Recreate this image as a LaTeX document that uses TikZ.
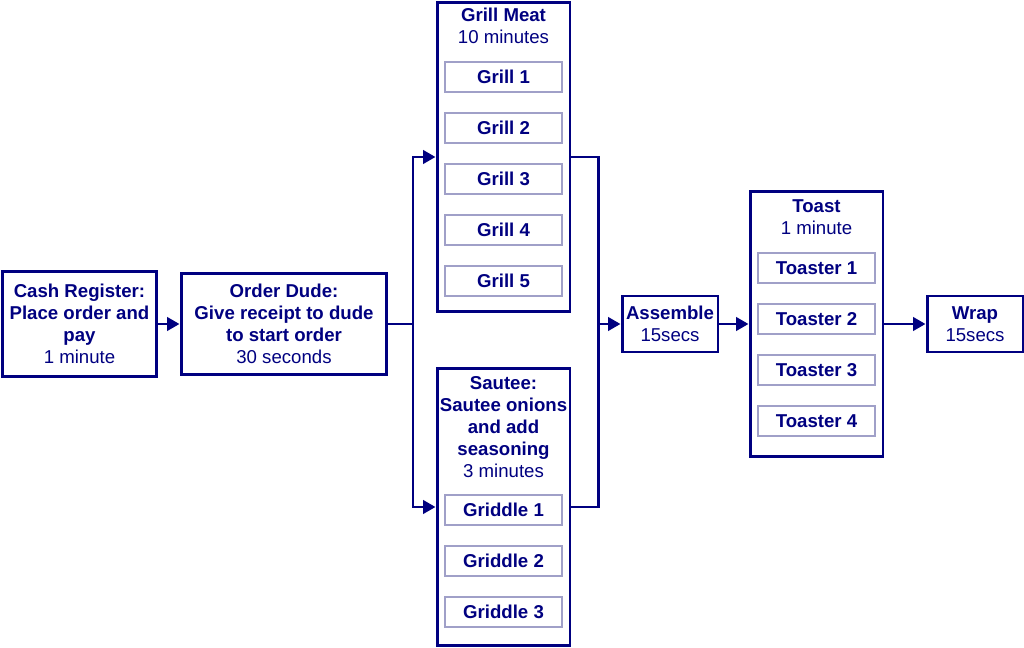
\documentclass[tikz,border=0pt]{standalone}
\usepackage{fontspec}
\setmainfont{Liberation Sans}
\usetikzlibrary{arrows.meta}
\definecolor{navy}{RGB}{0,0,128}
\definecolor{pale}{RGB}{160,160,200}
\newcommand{\tm}[1]{{\mdseries #1}}

\begin{document}
\begin{tikzpicture}[x=0.02cm,y=-0.02cm]
	\tikzstyle{stage}=[draw=navy,line width=1.7pt,text=navy,align=center,inner sep=0pt,
		font=\fontsize{10.6}{12.6}\selectfont\bfseries];
	\tikzstyle{title}=[text=navy,align=center,inner sep=0pt,anchor=north,
		font=\fontsize{10.6}{12.6}\selectfont\bfseries];
	\tikzstyle{unit}=[draw=pale,line width=0.6pt,text=navy,minimum width=2.34cm,minimum height=0.6cm,
		inner sep=0pt,font=\fontsize{10.6}{12.6}\selectfont\bfseries];
	\tikzstyle{flow}=[draw=navy,line width=1.7pt,>={Triangle[length=7pt,width=7.5pt]}];
%<--------------------------------------------------------------------------->%
	\useasboundingbox (0,0) rectangle (1024,648);
	%% Stages
	\node[stage,minimum width=3.1cm,minimum height=2.12cm] (cash) at (79.5,324)
		{Cash Register:\\Place order and\\pay\\\tm{1 minute}};
	\node[stage,minimum width=4.12cm,minimum height=2.04cm] (order) at (284,324)
		{Order Dude:\\Give receipt to dude\\to start order\\\tm{30 seconds}};
	\node[stage,minimum width=2.66cm,minimum height=6.2cm] (grill) at (503.5,157) {};
	\node[stage,minimum width=2.66cm,minimum height=5.56cm] (sautee) at (503.5,507) {};
	\node[stage,minimum width=1.92cm,minimum height=1.12cm] (assemble) at (670,324)
		{Assemble\\\tm{15secs}};
	\node[stage,minimum width=2.66cm,minimum height=5.3cm] (toast) at (816.5,324) {};
	\node[stage,minimum width=1.92cm,minimum height=1.12cm] (wrap) at (975,324)
		{Wrap\\\tm{15secs}};
	%% Titles
	\node[title] (grilltitle) at (503.5,8) {Grill Meat\\\tm{10 minutes}};
	\node[title] (sauteetitle) at (503.5,376) {Sautee:\\Sautee onions\\and add\\seasoning\\\tm{3 minutes}};
	\node[title] (toasttitle) at (816.5,199) {Toast\\\tm{1 minute}};
	%% Units
	\foreach \i/\y in {1/77,2/128,3/179,4/230,5/281}
		\node[unit] (grill\i) at (503.5,\y) {Grill \i};
	\foreach \i/\y in {1/510,2/561,3/612}
		\node[unit] (griddle\i) at (503.5,\y) {Griddle \i};
	\foreach \i/\y in {1/268,2/319,3/370,4/421}
		\node[unit] (toaster\i) at (816.5,\y) {Toaster \i};
	%% Connectors
	\coordinate (split) at (413,324);
	\coordinate (join)  at (598,324);
	\draw[flow,->] (cash) -- (order);
	\draw[flow] (order) -- (split);
	\draw[flow,->] (split) |- (grill);
	\draw[flow,->] (split) |- (sautee);
	\draw[flow] (grill.east) -| (join) |- (sautee.east);
	\draw[flow,->] (join) -- (assemble);
	\draw[flow,->] (assemble) -- (toast);
	\draw[flow,->] (toast) -- (wrap);
\end{tikzpicture}
\end{document}
